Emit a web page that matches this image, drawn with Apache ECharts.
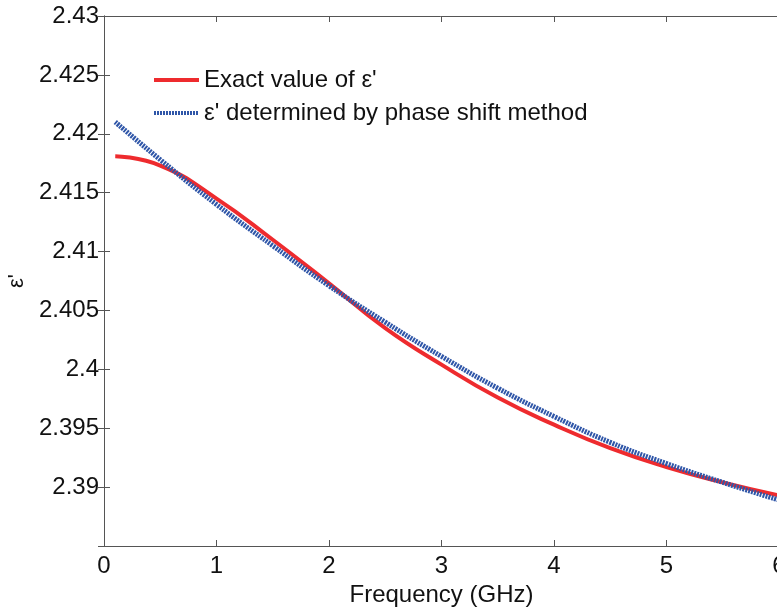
<!DOCTYPE html>
<html>
<head>
<meta charset="utf-8">
<script src="https://cdn.jsdelivr.net/npm/echarts@6/dist/echarts.min.js"></script>
<style>
html, body { margin: 0; padding: 0; background: #fff; }
#main { width: 777px; height: 607px; }
</style>
</head>
<body>
<div id="main"></div>
<script>
// frequency points (GHz)
var freq = [0.1, 0.5, 1.0, 1.5, 2.0, 2.5, 3.0, 3.5, 4.0, 4.5, 5.0, 5.5, 6.0];
// exact value of eps'
var exactEps = [2.4181, 2.4173, 2.4145, 2.4110, 2.4073, 2.4035, 2.4004, 2.3976, 2.3953, 2.3933, 2.3917, 2.3904, 2.3893];
// eps' from phase shift method
var phaseEps = [2.4210, 2.4178, 2.4140, 2.4105, 2.4071, 2.4040, 2.4011, 2.3984, 2.3960, 2.3938, 2.3920, 2.3904, 2.3889];
var xTicks = [0, 1, 2, 3, 4, 5, 6];
var yTicks = [2.385, 2.39, 2.395, 2.4, 2.405, 2.41, 2.415, 2.42, 2.425, 2.43];

function pairs(xs, ys) {
    var out = [];
    for (var i = 0; i < xs.length; i++) out.push([xs[i], ys[i]]);
    return out;
}

var axisCol = '#555';
var font = 'Liberation Sans, Arial, sans-serif';

var myChart = echarts.init(document.getElementById('main'));
var option = {
    animation: false,
    backgroundColor: '#fff',
    grid: { left: 104, top: 16, width: 675, height: 530, containLabel: false, outerBoundsMode: 'none' },
    legend: {
        orient: 'vertical',
        left: 147,
        top: 63,
        itemWidth: 45,
        itemHeight: 10,
        itemGap: 9,
        itemStyle: { opacity: 0 },
        lineStyle: { width: 4 },
        textStyle: { fontSize: 24, color: '#111', fontFamily: font },
        data: ["Exact value of ε'", "ε' determined by phase shift method"]
    },
    xAxis: [{
        type: 'value',
        min: xTicks[0],
        max: xTicks[xTicks.length - 1],
        interval: 1,
        name: 'Frequency (GHz)',
        nameLocation: 'middle',
        nameGap: 33,
        nameTextStyle: { fontSize: 24, color: '#111', fontFamily: font },
        axisLine: { show: true, lineStyle: { color: axisCol, width: 1 } },
        axisTick: { show: true, inside: true, length: 6, lineStyle: { color: axisCol } },
        axisLabel: { fontSize: 24, color: '#111', fontFamily: font, margin: 8 },
        splitLine: { show: false }
    }, {
        type: 'value',
        position: 'top',
        min: xTicks[0],
        max: xTicks[xTicks.length - 1],
        interval: 1,
        axisLine: { show: true, lineStyle: { color: axisCol, width: 1 } },
        axisTick: { show: true, inside: true, length: 6, lineStyle: { color: axisCol } },
        axisLabel: { show: false },
        splitLine: { show: false }
    }],
    yAxis: [{
        type: 'value',
        min: yTicks[0],
        max: yTicks[yTicks.length - 1],
        interval: 0.005,
        name: "ε'",
        nameLocation: 'middle',
        nameRotate: 90,
        nameGap: 76,
        nameTextStyle: { fontSize: 22, color: '#111', fontFamily: font },
        axisLine: { show: true, lineStyle: { color: axisCol, width: 1 } },
        axisTick: { show: true, inside: true, length: 6, lineStyle: { color: axisCol } },
        axisLabel: {
            fontSize: 24, color: '#111', fontFamily: font, margin: 5,
            formatter: function (v) {
                if (v < yTicks[0] + 0.0005) return '';
                return String(parseFloat(v.toFixed(3)));
            }
        },
        splitLine: { show: false }
    }, {
        type: 'value',
        position: 'right',
        min: yTicks[0],
        max: yTicks[yTicks.length - 1],
        interval: 0.005,
        axisLine: { show: true, lineStyle: { color: axisCol, width: 1 } },
        axisTick: { show: true, inside: true, length: 6, lineStyle: { color: axisCol } },
        axisLabel: { show: false },
        splitLine: { show: false }
    }],
    series: [{
        name: "Exact value of ε'",
        type: 'line',
        smooth: true,
        showSymbol: false,
        symbol: 'none',
        lineStyle: { color: '#ee2b2e', width: 4 },
        itemStyle: { color: '#ee2b2e' },
        data: pairs(freq, exactEps)
    }, {
        name: "ε' determined by phase shift method",
        type: 'line',
        smooth: true,
        showSymbol: false,
        symbol: 'none',
        lineStyle: { color: '#2f56a8', width: 5, type: [2, 1] },
        itemStyle: { color: '#2f56a8' },
        data: pairs(freq, phaseEps)
    }]
};
myChart.setOption(option);
</script>
</body>
</html>
